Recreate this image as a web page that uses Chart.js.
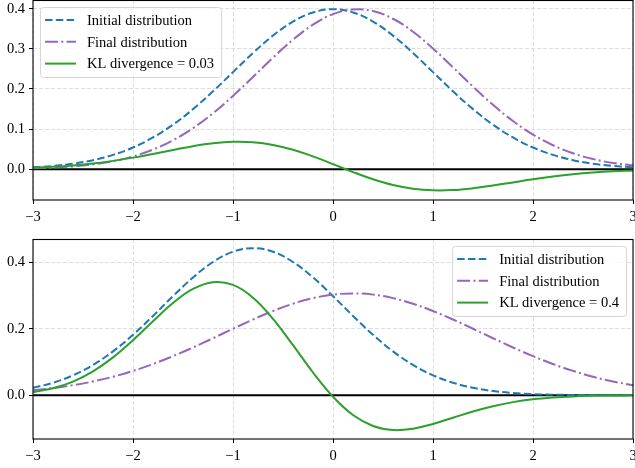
<!DOCTYPE html>
<html>
<head>
<meta charset="utf-8">
<script src="https://cdn.jsdelivr.net/npm/chart.js@4.4.1/dist/chart.umd.min.js"></script>
<style>
  html, body { margin:0; padding:0; background:#fff; }
  #wrap { position:relative; width:635px; height:468px; }
  canvas { position:absolute; left:0; }
  #graf1 { top:0; }
  #graf2 { top:232px; }
</style>
</head>
<body>
<div id="wrap">
  <canvas id="graf1" width="635" height="232"></canvas>
  <canvas id="graf2" width="635" height="236"></canvas>
</div>
<script>
// pontos em x (comuns aos dois paineis)
const xs = [-3,-2.8,-2.6,-2.4,-2.2,-2,-1.8,-1.6,-1.4,-1.2,-1,-0.8,-0.6,-0.4,-0.2,0,
            0.2,0.4,0.6,0.8,1,1.2,1.4,1.6,1.8,2,2.2,2.4,2.6,2.8,3];

// painel de cima
const inicialA = [0.0044,0.0079,0.0136,0.0224,0.0355,0.0540,0.0790,0.1109,0.1497,0.1942,0.2420,
                  0.2897,0.3332,0.3683,0.3910,0.3989,0.3910,0.3683,0.3332,0.2897,0.2420,
                  0.1942,0.1497,0.1109,0.0790,0.0540,0.0355,0.0224,0.0136,0.0079,0.0044];
const finalA   = [0.0020,0.0038,0.0069,0.0119,0.0198,0.0317,0.0488,0.0721,0.1023,0.1394,0.1827,
                  0.2299,0.2780,0.3230,0.3605,0.3867,0.3984,0.3945,0.3752,0.3429,0.3011,
                  0.2541,0.2059,0.1604,0.1200,0.0863,0.0596,0.0396,0.0252,0.0155,0.0091];
const klA      = [0.0035,0.0058,0.0093,0.0141,0.0206,0.0287,0.0380,0.0478,0.0571,0.0643,0.0681,
                  0.0670,0.0604,0.0483,0.0318,0.0125,-0.0073,-0.0253,-0.0396,-0.0489,-0.0529,
                  -0.0522,-0.0477,-0.0409,-0.0331,-0.0253,-0.0184,-0.0127,-0.0084,-0.0053,-0.0032];

// painel de baixo
const inicialB = [0.0223,0.0375,0.0600,0.0913,0.1322,0.1822,0.2391,0.2986,0.3550,0.4016,0.4325,
                  0.4433,0.4325,0.4016,0.3550,0.2986,0.2391,0.1822,0.1322,0.0913,0.0600,
                  0.0375,0.0223,0.0127,0.0068,0.0035,0.0017,0.0008,0.0004,0.0001,0.0001];
const finalB   = [0.0148,0.0214,0.0302,0.0415,0.0558,0.0733,0.0940,0.1177,0.1439,0.1718,0.2004,
                  0.2283,0.2539,0.2759,0.2927,0.3033,0.3069,0.3033,0.2927,0.2759,0.2539,
                  0.2283,0.2004,0.1718,0.1439,0.1177,0.0940,0.0733,0.0558,0.0415,0.0302];
const klB      = [0.0092,0.0211,0.0412,0.0719,0.1140,0.1660,0.2233,0.2781,0.3205,0.3409,0.3326,
                  0.2942,0.2302,0.1508,0.0685,-0.0046,-0.0597,-0.0928,-0.1051,-0.1010,-0.0866,
                  -0.0678,-0.0490,-0.0330,-0.0208,-0.0123,-0.0069,-0.0036,-0.0018,-0.0008,-0.0004];

const xTicks = [-3,-2,-1,0,1,2,3];
const yTicksA = [0,0.1,0.2,0.3,0.4];
const yTicksB = [0,0.2,0.4];
const rotulosA = ['Initial distribution','Final distribution','KL divergence = 0.03'];
const rotulosB = ['Initial distribution','Final distribution','KL divergence = 0.4'];

const COR = { azul:'#1f77b4', roxo:'#9467bd', verde:'#2ca02c', grade:'#dedede' };
const FONTE = '"Liberation Serif", "DejaVu Serif", serif';

function pontos(ys){
    return xs.map((x, i) => ({x: x, y: ys[i]}));
}
function menos(v){
    return v < 0 ? '\u2212' + (-v) : String(v);
}
// sem folga extra para os rotulos nas pontas: a area do grafico vai ate a borda
function semFolga(s){
    s.paddingLeft = 0;
    s.paddingRight = 0;
    s.paddingTop = 0;
    s.paddingBottom = 0;
}

// linha do zero, moldura e legenda no estilo matplotlib
const moldura = {
    id: 'moldura',
    beforeDatasetsDraw(chart){
        const {ctx, chartArea: a, scales} = chart;
        const y0 = scales.y.getPixelForValue(0);
        ctx.save();
        ctx.strokeStyle = '#000';
        ctx.lineWidth = 2;
        ctx.beginPath();
        ctx.moveTo(a.left, y0);
        ctx.lineTo(a.right, y0);
        ctx.stroke();
        ctx.restore();
    },
    afterDatasetsDraw(chart){
        const {ctx, chartArea: a} = chart;
        ctx.save();
        ctx.strokeStyle = '#000';
        ctx.lineWidth = 1.1;
        ctx.strokeRect(a.left, a.top + 0.5, a.right - a.left, a.bottom - a.top - 0.5);
        ctx.restore();
    },
    afterDraw(chart, args, o){
        const ctx = chart.ctx;
        const sets = chart.data.datasets;
        ctx.save();
        ctx.font = '14.5px ' + FONTE;
        const larg = Math.max(...sets.map(d => ctx.measureText(d.label).width));
        const w = 5 + 31 + 11 + larg + 7;
        const h = 70;
        const x0 = o.direita !== undefined ? o.direita - w : o.esquerda;
        const y0 = o.topo;
        ctx.beginPath();
        ctx.roundRect(x0 + 0.5, y0 + 0.5, w, h, 3);
        ctx.fillStyle = 'rgba(255,255,255,0.8)';
        ctx.fill();
        ctx.strokeStyle = '#d6d6d6';
        ctx.lineWidth = 1;
        ctx.stroke();
        sets.forEach((d, i) => {
            const yy = y0 + 13 + i * 21.8;
            ctx.strokeStyle = d.borderColor;
            ctx.lineWidth = 2;
            ctx.setLineDash(d.borderDash || []);
            ctx.beginPath();
            ctx.moveTo(x0 + 5, yy);
            ctx.lineTo(x0 + 36, yy);
            ctx.stroke();
            ctx.setLineDash([]);
            ctx.fillStyle = '#000';
            ctx.textBaseline = 'middle';
            ctx.fillText(d.label, x0 + 47, yy + 1);
        });
        ctx.restore();
    }
};

function grafico(id, series, rotulos, yMin, yMax, yTicks, padTopo, alturaX, legenda){
    const ctx = document.getElementById(id);
    const config = {
        type: 'line',
        data: {
            datasets: [{
                label: rotulos[0],
                data: pontos(series[0]),
                borderColor: COR.azul,
                borderDash: [7.5, 3.3],
                order: 3
            },
            {
                label: rotulos[1],
                data: pontos(series[1]),
                borderColor: COR.roxo,
                borderDash: [13, 3.3, 2, 3.3],
                order: 2
            },
            {
                label: rotulos[2],
                data: pontos(series[2]),
                borderColor: COR.verde,
                order: 1
            }]
        },
        options: {
            responsive: false,
            animation: false,
            devicePixelRatio: 1,
            layout: { padding: { top: padTopo, right: 2, left: 0, bottom: 0 } },
            elements: {
                point: { radius: 0 },
                line: { borderWidth: 2, tension: 0.4, fill: false }
            },
            scales: {
                x: {
                    type: 'linear',
                    min: -3, max: 3,
                    afterBuildTicks: s => { s.ticks = xTicks.map(v => ({value: v})); },
                    afterFit: s => { s.height = alturaX; semFolga(s); },
                    ticks: {
                        callback: v => menos(v),
                        font: { family: FONTE, size: 14.5 },
                        color: '#000',
                        padding: 4,
                        maxRotation: 0,
                        autoSkip: false
                    },
                    grid: { color: COR.grade, lineWidth: 1, tickColor: '#000', tickLength: 4 },
                    border: { display: false, dash: [4, 2] }
                },
                y: {
                    min: yMin, max: yMax,
                    afterBuildTicks: s => { s.ticks = yTicks.map(v => ({value: v})); },
                    afterFit: s => { s.width = 33; semFolga(s); },
                    ticks: {
                        callback: v => v.toFixed(1),
                        font: { family: FONTE, size: 14.5 },
                        color: '#000',
                        padding: 4
                    },
                    grid: { color: COR.grade, lineWidth: 1, tickColor: '#000', tickLength: 4 },
                    border: { display: false, dash: [4, 2] }
                }
            },
            plugins: {
                legend: { display: false },
                tooltip: { enabled: false },
                moldura: legenda
            }
        },
        plugins: [moldura]
    };
    return new Chart(ctx, config);
}

grafico('graf1', [inicialA, finalA, klA], rotulosA, -0.077, 0.422, yTicksA, 0, 32, { esquerda: 40, topo: 7 });
grafico('graf2', [inicialB, finalB, klB], rotulosB, -0.132, 0.471, yTicksB, 7, 29, { direita: 626, topo: 14 });
</script>
</body>
</html>
